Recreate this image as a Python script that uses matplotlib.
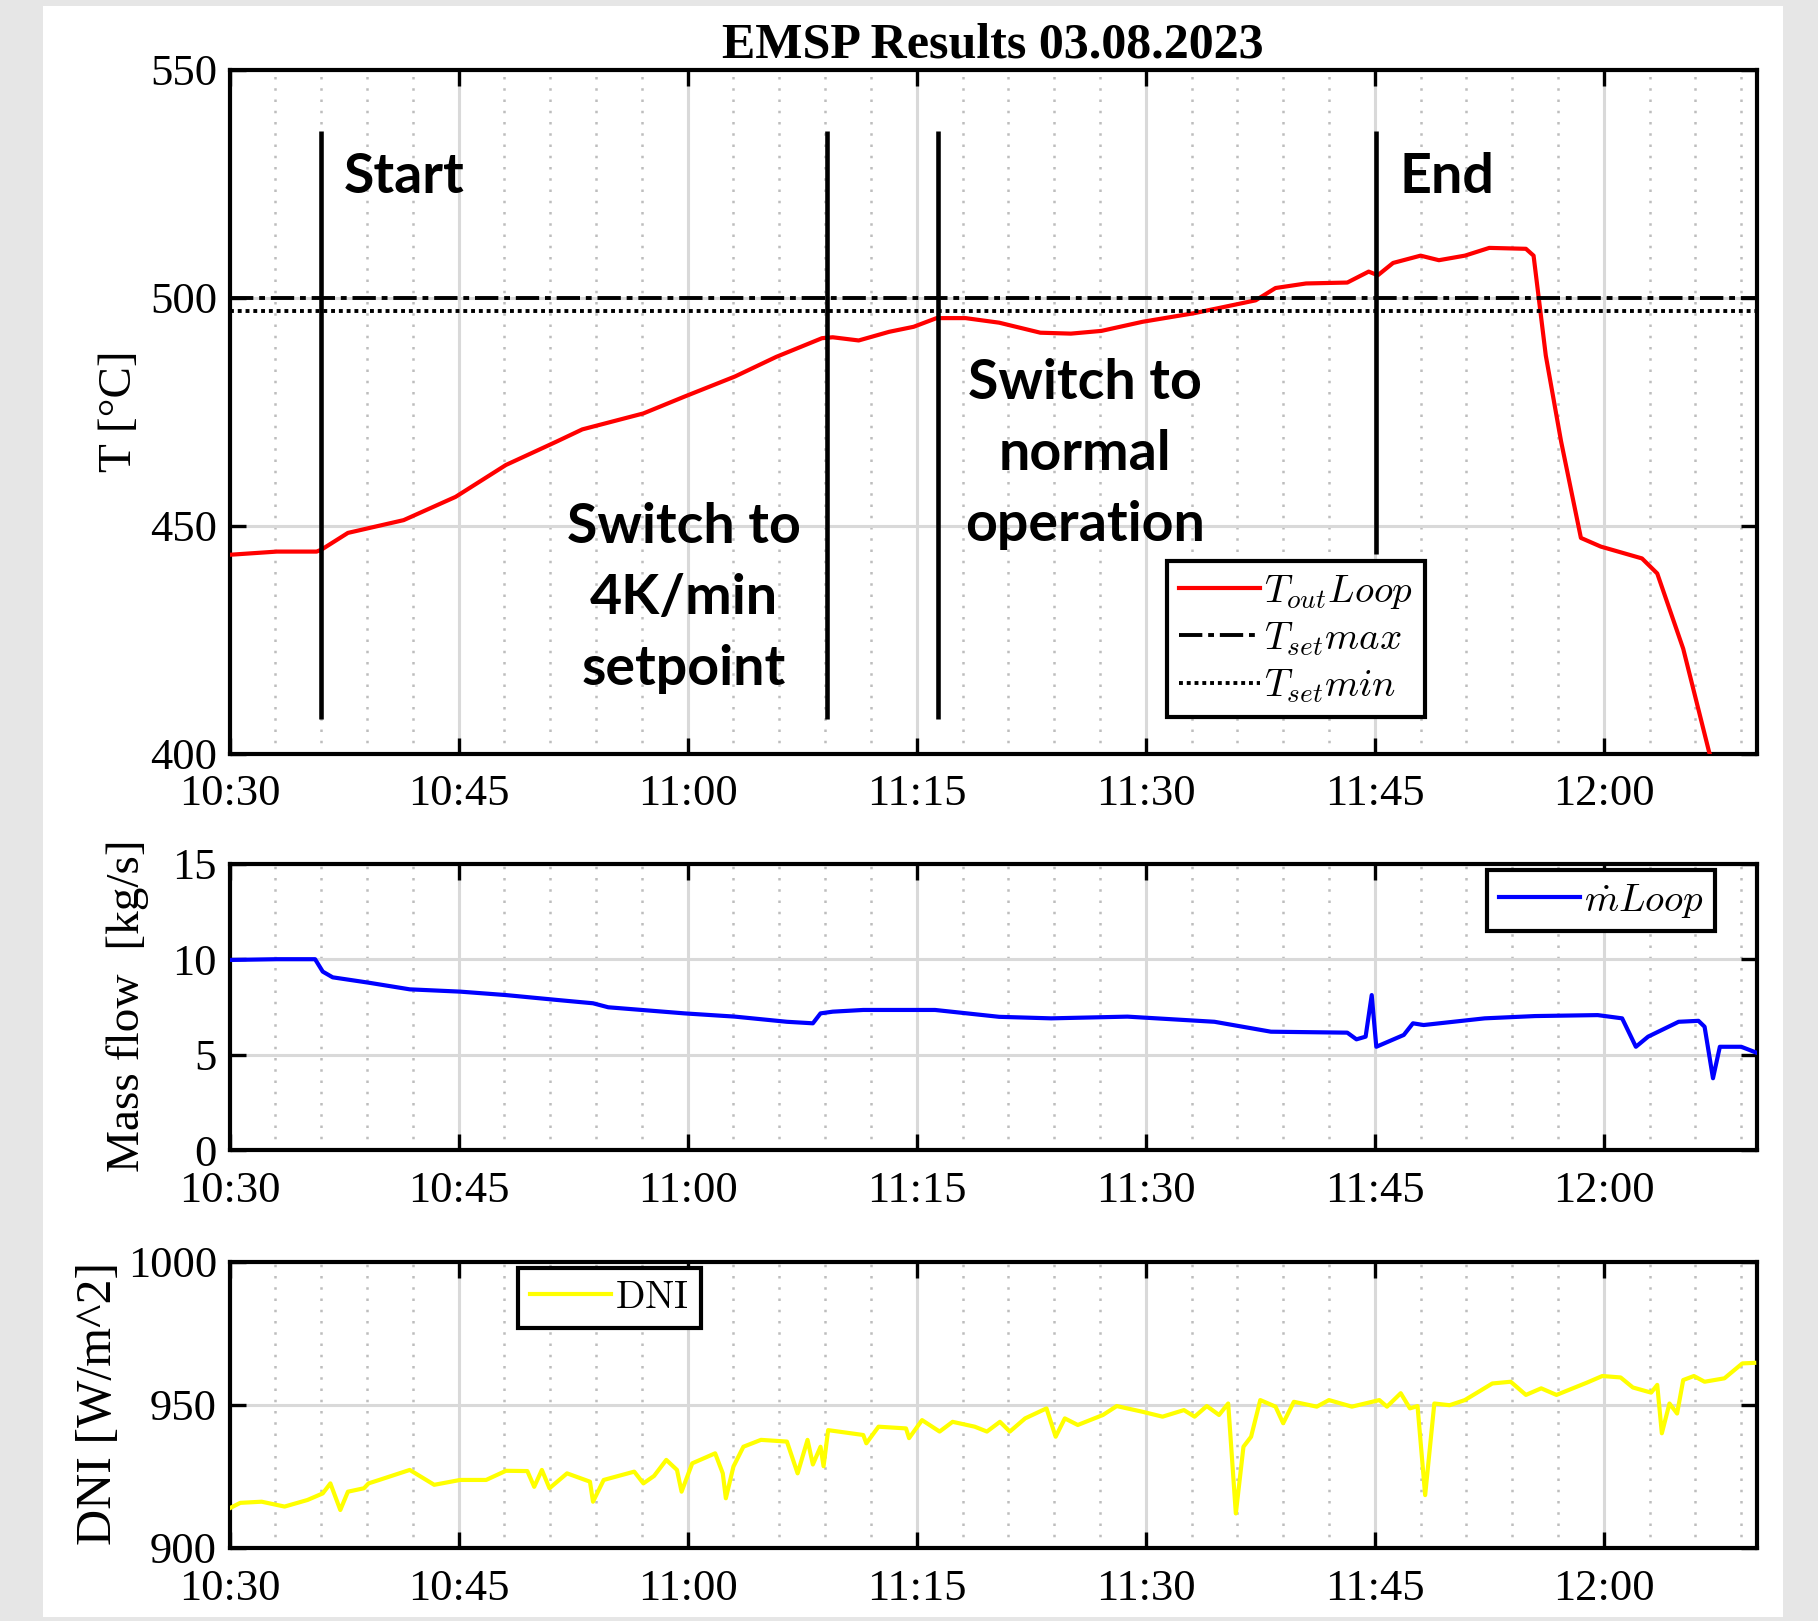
import matplotlib
matplotlib.use("Agg")
import matplotlib.pyplot as plt
from matplotlib.ticker import MultipleLocator
from matplotlib.patches import Rectangle

plt.rcParams['font.family'] = ['Liberation Serif', 'DejaVu Serif']
plt.rcParams['mathtext.fontset'] = 'cm'

# time axis: minutes after 10:30
tick_min = [0, 15, 30, 45, 60, 75, 90]
tick_lab = ['10:30', '10:45', '11:00', '11:15', '11:30', '11:45', '12:00']

# outlet temperature of the loop
t_T = [0, 3.1, 5.7, 6.0, 7.75, 11.4, 14.8, 18.1, 21.4, 23.1, 27.1, 29.8, 33.1, 35.8, 38.8, 39.5,
       41.2, 43.2, 44.8, 46.3, 48.2, 50.4, 53.1, 55.1, 57.1, 59.8, 63.2, 67.2, 68.5, 70.5, 73.2,
       74.6, 75.2, 76.2, 78.0, 79.2, 80.9, 82.5, 84.9, 85.4, 86.2, 87.2, 88.5, 89.8, 92.5, 93.5,
       95.2, 96.9, 97.6]
T_out = [443.6, 444.3, 444.3, 444.7, 448.4, 451.2, 456.3, 463.3, 468.4, 471.1, 474.6, 478.3, 482.7,
         487.0, 491.1, 491.3, 490.6, 492.5, 493.6, 495.5, 495.5, 494.5, 492.3, 492.1, 492.7, 494.7,
         496.6, 499.4, 502.1, 503.1, 503.3, 505.7, 504.9, 507.6, 509.2, 508.2, 509.2, 510.9, 510.7,
         509.2, 487.3, 468.5, 447.3, 445.4, 442.8, 439.5, 423.0, 400.3, 394]
T_set_max = 500
T_set_min = 497

# event markers (minutes, y from, y to)
ev_t = [6.0, 39.1, 46.4, 75.1]
ev_lo = [407.6, 407.6, 407.6, 443.7]
ev_hi = [536.5, 536.5, 536.5, 536.5]

# mass flow
t_m = [0, 3.1, 5.6, 6.1, 6.75, 9.1, 11.8, 15.1, 18.1, 21.5, 23.8, 24.8, 29.8, 33.1, 36.5, 38.2,
       38.7, 39.5, 41.5, 46.2, 50.4, 53.8, 58.8, 64.5, 68.2, 73.2, 73.8, 74.4, 74.8, 75.1, 76.9,
       77.5, 78.2, 82.2, 85.5, 89.6, 91.2, 92.1, 92.9, 94.9, 96.2, 96.6, 97.15, 97.6, 99.0, 100]
m_loop = [9.96, 10.0, 10.0, 9.35, 9.05, 8.77, 8.42, 8.3, 8.12, 7.86, 7.69, 7.48, 7.16, 6.99, 6.72,
          6.64, 7.16, 7.25, 7.34, 7.34, 6.98, 6.9, 6.99, 6.72, 6.2, 6.15, 5.8, 5.94, 8.12, 5.41,
          6.03, 6.64, 6.55, 6.9, 7.02, 7.07, 6.9, 5.41, 5.94, 6.72, 6.77, 6.46, 3.76, 5.41, 5.41, 5.1]

# direct normal irradiance
t_d = [0, 0.7, 2.1, 3.6, 5.1, 6.1, 6.6, 7.25, 7.75, 8.8, 9.1, 9.8, 11.8, 13.4, 15.1, 16.8, 18.1,
       19.5, 19.95, 20.45, 20.95, 22.1, 23.6, 23.8, 24.5, 26.5, 27.1, 27.8, 28.6, 29.3, 29.6, 30.3,
       31.8, 32.3, 32.5, 33.0, 33.65, 34.8, 36.5, 37.2, 37.85, 38.2, 38.7, 38.9, 39.2, 41.5, 41.7,
       42.5, 44.3, 44.5, 45.35, 46.5, 47.35, 48.8, 49.6, 50.45, 51.1, 52.1, 53.5, 54.1, 54.7, 55.55,
       57.2, 58.1, 59.8, 61.1, 62.5, 63.2, 64.0, 64.8, 65.4, 65.9, 66.4, 66.9, 67.5, 68.5, 69.0,
       69.7, 71.2, 72.0, 73.5, 75.3, 75.8, 76.7, 77.3, 77.8, 78.3, 78.9, 79.9, 80.9, 82.7, 83.9,
       84.9, 85.9, 86.9, 88.9, 89.9, 91.1, 91.9, 93.1, 93.5, 93.8, 94.3, 94.8, 95.2, 95.9, 96.6,
       97.9, 99.07, 99.85]
dni = [913.8, 915.7, 916.1, 914.4, 916.7, 919.0, 922.5, 913.2, 919.6, 920.8, 922.5, 923.7, 927.2,
       922.0, 923.7, 923.7, 926.9, 926.8, 921.3, 927.2, 920.8, 926.0, 923.1, 916.1, 923.7, 926.6,
       922.5, 925.1, 930.7, 927.2, 919.6, 929.5, 933.0, 926.0, 917.3, 928.4, 935.3, 937.7, 937.1,
       926.0, 937.7, 929.1, 935.3, 928.5, 941.1, 939.4, 936.5, 942.3, 941.7, 938.3, 944.6, 940.6,
       944.0, 942.3, 940.6, 944.0, 940.6, 945.2, 948.7, 938.8, 945.2, 942.9, 946.4, 949.5, 947.5,
       945.8, 948.1, 945.8, 949.5, 946.4, 950.4, 912.0, 935.3, 938.8, 951.6, 949.3, 943.5, 951.0,
       949.3, 951.6, 949.3, 951.6, 949.3, 954.0, 948.7, 949.5, 918.4, 950.4, 949.8, 951.6, 957.4,
       958.0, 953.4, 955.7, 953.4, 957.7, 960.0, 959.5, 956.0, 954.2, 956.9, 940.0, 950.4, 946.9,
       958.6, 960.0, 958.0, 959.2, 964.4, 964.6]

W, H = 1818, 1621
fig = plt.figure(figsize=(W / 100, H / 100), dpi=100, facecolor='#e6e6e6')
fig.patches.append(Rectangle((43 / W, 1 - 1617 / H), (1783 - 43) / W, (1617 - 6) / H,
                             transform=fig.transFigure, facecolor='white', edgecolor='none', zorder=-5))

left, width = 229.6 / W, 1526.9 / W
ax1 = fig.add_axes([left, 1 - 753.6 / H, width, 684 / H])
ax2 = fig.add_axes([left, 1 - 1150 / H, width, 286.2 / H])
ax3 = fig.add_axes([left, 1 - 1547.8 / H, width, 286.3 / H])


def style(ax):
    ax.set_xlim(0, 100)
    ax.set_xticks(tick_min)
    ax.set_xticklabels(tick_lab)
    ax.xaxis.set_minor_locator(MultipleLocator(3))
    ax.set_axisbelow(True)
    ax.grid(True, which='major', color='#d9d9d9', linewidth=2.2, linestyle='-')
    ax.grid(True, which='minor', axis='x', color='#bdbdbd', linewidth=1.8, linestyle=(0, (1, 3.5)))
    ax.tick_params(which='major', direction='in', length=11.5, width=2.4, top=True, right=True,
                   labelsize=32, colors='black')
    ax.tick_params(which='minor', length=0)
    ax.tick_params(axis='x', pad=15)
    ax.tick_params(axis='y', pad=9)
    for s in ax.spines.values():
        s.set_linewidth(3)
        s.set_color('black')


for ax in (ax1, ax2, ax3):
    style(ax)

# top: temperatures
ax1.set_ylim(400, 550)
ax1.set_yticks([400, 450, 500, 550])
ax1.plot(t_T, T_out, color='#ff0000', linewidth=3.0, label=r'$T_{out}Loop$', zorder=3)
ax1.axhline(T_set_max, color='black', linewidth=2.8, linestyle=(0, (6, 1.5, 1.5, 1.5)),
            label=r'$T_{set}max$', zorder=3)
ax1.axhline(T_set_min, color='black', linewidth=2.8, linestyle=(0, (1, 1)),
            label=r'$T_{set}min$', zorder=3)
ax1.vlines(ev_t, ev_lo, ev_hi, color='black', linewidth=3.3, zorder=4)

tfont = dict(family='Lato', weight='bold', size=40, color='black', zorder=5)
ax1.text(7.49, 526.4, 'Start', ha='left', va='center', **tfont)
ax1.text(76.65, 526.4, 'End', ha='left', va='center', **tfont)
ax1.text(29.77, 434.1, 'Switch to\n4K/min\nsetpoint', ha='center', va='center', linespacing=1.52, **tfont)
ax1.text(56.0, 465.7, 'Switch to\nnormal\noperation', ha='center', va='center', linespacing=1.52, **tfont)

leg_kw = dict(loc='upper left', bbox_transform=fig.transFigure, borderaxespad=0, fancybox=False,
              framealpha=1, edgecolor='black', fontsize=28, handlelength=2.1, handletextpad=0.1,
              borderpad=0.3, labelspacing=0.25)
lg = ax1.legend(bbox_to_anchor=(1167 / W, 1 - 561 / H), **leg_kw)

# middle: mass flow
ax2.set_ylim(0, 15)
ax2.set_yticks([0, 5, 10, 15])
ax2.plot(t_m, m_loop, color='#0000ff', linewidth=3.0, label=r'$\dot{m}Loop$', zorder=3)
lg2 = ax2.legend(bbox_to_anchor=(1487 / W, 1 - 870 / H), **leg_kw)

# bottom: DNI
ax3.set_ylim(900, 1000)
ax3.set_yticks([900, 950, 1000])
ax3.plot(t_d, dni, color='#ffff00', linewidth=3.0, label=r'$\mathrm{DNI}$', zorder=3)
lg3 = ax3.legend(bbox_to_anchor=(518 / W, 1 - 1268 / H), **leg_kw)

for l in (lg, lg2, lg3):
    l.get_frame().set_linewidth(3)

fig.text(993 / W, 1 - 45 / H, 'EMSP Results 03.08.2023', ha='center', va='center',
         fontsize=36, fontweight='bold')
fig.text(119.4 / W, 1 - 411.6 / H, 'T [°C]', rotation=90, ha='center', va='center', fontsize=34)
fig.text(128 / W, 1 - 1006 / H, 'Mass flow  [kg/s]', rotation=90, ha='center', va='center', fontsize=34)
fig.text(98.5 / W, 1 - 1403 / H, 'DNI [W/m^2]', rotation=90, ha='center', va='center', fontsize=36)

fig.savefig('out.png', dpi=100, facecolor=fig.get_facecolor())
